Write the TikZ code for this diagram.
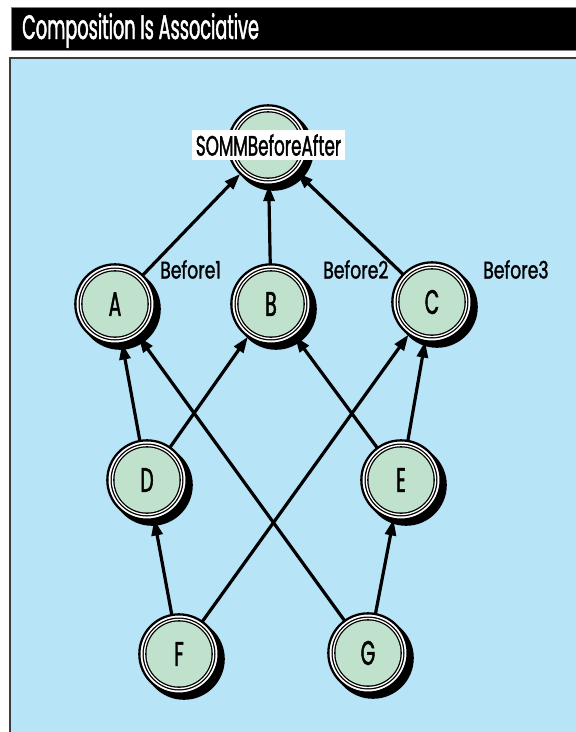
\documentclass[tikz,border=0pt]{standalone}
\usepackage{fontspec}
\usetikzlibrary{arrows.meta}
\newfontfamily\titlefont[FakeStretch=0.52,FakeBold=1.3]{Poppins}
\newfontfamily\statefont[FakeStretch=0.55,FakeBold=1.3]{Poppins}
\newfontfamily\boxfont[FakeStretch=0.6,FakeBold=1.3]{Poppins}
\newfontfamily\tagfont[FakeStretch=0.72,FakeBold=1.3]{Poppins}
\definecolor{panelblue}{RGB}{184,228,248}
\definecolor{nodegreen}{RGB}{192,226,204}
\definecolor{frameline}{RGB}{60,60,60}
\tikzset{
  ringnode/.style={
    circle, inner sep=0pt, outer sep=0pt, minimum size=79.3pt,
    fill=white, draw=black, line width=2.3pt,
    font=\statefont\fontsize{34}{34}\selectfont,
    preaction={fill=black, draw=black, line width=2.3pt,
      transform canvas={shift={(5pt,-5pt)}}},
    path picture={
      \fill[black] (path picture bounding box.center) circle (36.5pt);
      \fill[white] (path picture bounding box.center) circle (35.2pt);
      \fill[black] (path picture bounding box.center) circle (33.8pt);
      \fill[nodegreen] (path picture bounding box.center) circle (32.5pt);
    }
  },
  steplabel/.style={anchor=base west, inner sep=0pt,
    font=\tagfont\fontsize{24}{24}\selectfont},
  link/.style={line width=3.2pt, -{Triangle[length=16pt,width=11pt]},
    shorten >=0.5pt}
}
\begin{document}
\begin{tikzpicture}[x=1pt,y=-1pt]
  \useasboundingbox (0,0) rectangle (576,732);
  \fill[white] (0,0) rectangle (576,732);

  % title bar
  \fill[black] (11,7) rectangle (576,50);
  \draw[gray, line width=0.8pt] (576,7) -- (11,7) -- (11,50) -- (576,50);
  \node[anchor=base west, inner sep=0pt, text=white,
        font=\titlefont\fontsize{34}{34}\selectfont] (title) at (22,39)
        {Composition Is Associative};

  % panel
  \fill[panelblue] (10,58) rectangle (577,733);
  \draw[frameline, line width=1.5pt] (10,733) -- (10,58) -- (577,58);

  % states
  \node[ringnode] (top) at (268,145) {};
  \node[ringnode] (A) at (115,304) {A};
  \node[ringnode] (B) at (271,304) {B};
  \node[ringnode] (C) at (432,302) {C};
  \node[ringnode] (D) at (147,480) {D};
  \node[ringnode] (E) at (401,480) {E};
  \node[ringnode] (F) at (179,654) {F};
  \node[ringnode] (G) at (368,653) {G};

  \node[fill=white, inner sep=0pt, minimum width=153pt, minimum height=30pt,
        font=\boxfont\fontsize{28}{28}\selectfont] (toplabel) at (268.5,145)
        {SOMMBeforeAfter};

  % labels
  \node[steplabel] (b1) at (160,278.5) {Before1};
  \node[steplabel] (b2) at (323,278.5) {Before2};
  \node[steplabel] (b3) at (483,278.5) {Before3};

  % connectors
  \draw[link] (A) -- (top);
  \draw[link] (B) -- (top);
  \draw[link] (C) -- (top);
  \draw[link] (D) -- (A);
  \draw[link] (D) -- (B);
  \draw[link] (E) -- (B);
  \draw[link] (E) -- (C);
  \draw[link] (F) -- (D);
  \draw[link] (F) -- (C);
  \draw[link] (G) -- (A);
  \draw[link] (G) -- (E);
\end{tikzpicture}
\end{document}
